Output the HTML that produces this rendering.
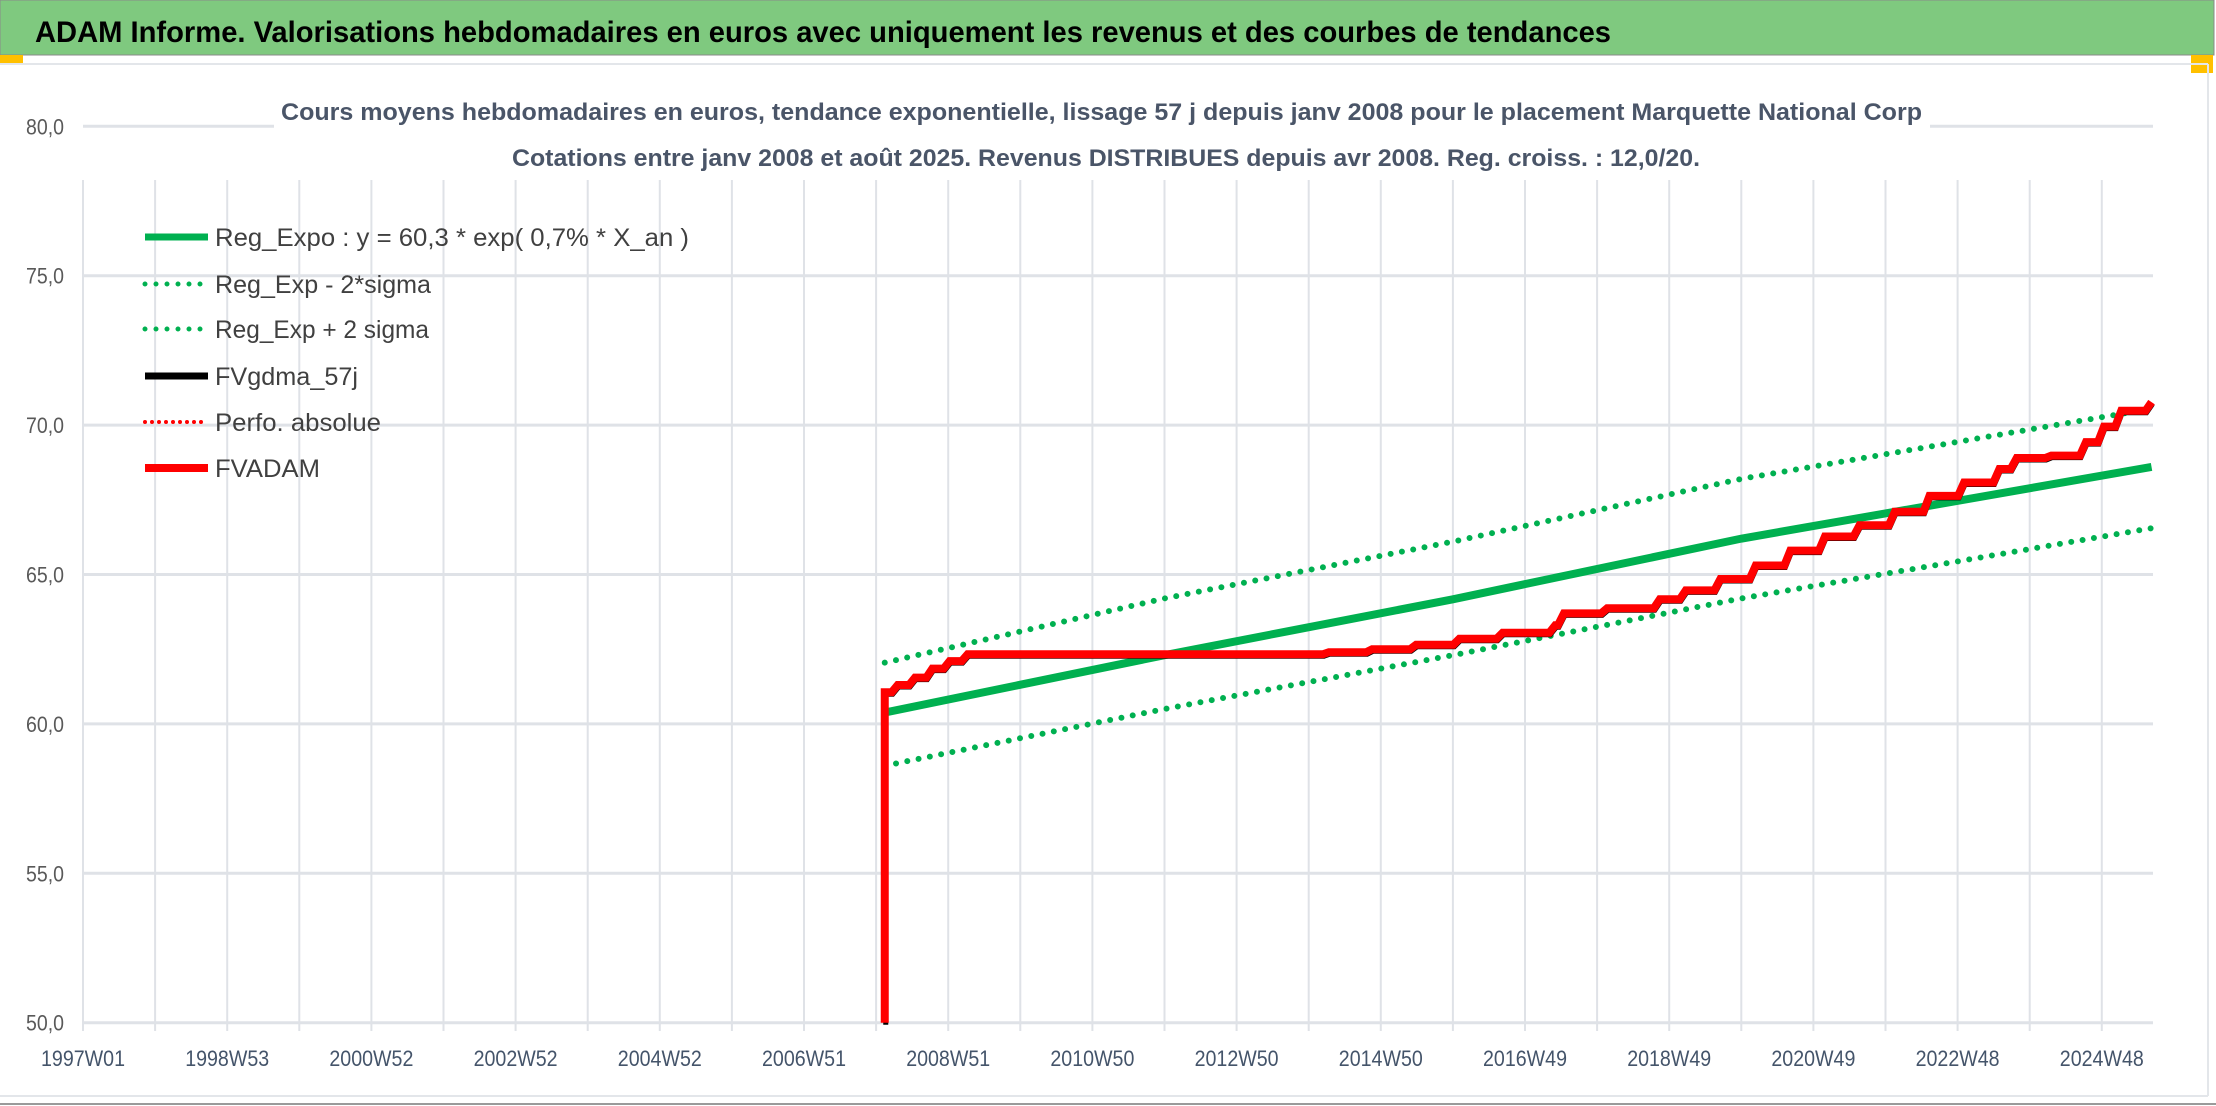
<!DOCTYPE html>
<html><head><meta charset="utf-8"><style>
html,body{margin:0;padding:0;background:#fff;}
svg{display:block;font-family:"Liberation Sans",sans-serif;}
</style></head><body>
<svg id="chart" width="2216" height="1106" viewBox="0 0 2216 1106">
<rect x="0" y="0" width="2216" height="1106" fill="#fff"/>
<rect x="0" y="0" width="2214" height="55" fill="#7fc97f" stroke="#8a8a8a" stroke-width="1"/>
<text x="35" y="42" font-size="30" font-weight="bold" fill="#000" textLength="1576" lengthAdjust="spacingAndGlyphs">ADAM Informe. Valorisations hebdomadaires en euros avec uniquement les revenus et des courbes de tendances</text>
<rect x="0" y="55" width="23" height="8" fill="#ffc000"/>
<rect x="2191" y="55" width="22" height="18" fill="#ffc000"/>
<line x1="0" y1="64" x2="2208" y2="64" stroke="#e3e6ea" stroke-width="2"/>
<line x1="2208" y1="64" x2="2208" y2="1096" stroke="#e3e6ea" stroke-width="2"/>
<line x1="0" y1="1096" x2="2208" y2="1096" stroke="#e3e6ea" stroke-width="2"/>
<line x1="0" y1="1104" x2="2216" y2="1104" stroke="#9a9a9a" stroke-width="2"/>
<g id="grid"></g>
<rect x="274" y="84" width="1656" height="94" fill="#fff"/>
<text x="281" y="120" font-size="24" font-weight="bold" fill="#4a5568" textLength="1641" lengthAdjust="spacingAndGlyphs">Cours moyens hebdomadaires en euros, tendance exponentielle, lissage 57 j depuis janv 2008 pour le placement Marquette National Corp</text>
<text x="512" y="166" font-size="24" font-weight="bold" fill="#4a5568" textLength="1188" lengthAdjust="spacingAndGlyphs">Cotations entre janv 2008 et août 2025. Revenus DISTRIBUES depuis avr 2008. Reg. croiss. : 12,0/20.</text>
<g id="axes"></g>
<g id="series"></g>
<g id="legend">
 <line x1="145" y1="237" x2="208" y2="237" stroke="#00b050" stroke-width="7"/>
 <text x="215" y="246" font-size="25" fill="#404040" textLength="474" lengthAdjust="spacingAndGlyphs">Reg_Expo : y = 60,3 * exp( 0,7% *  X_an )</text>
 <line x1="145" y1="284" x2="208" y2="284" stroke="#00b050" stroke-width="5" stroke-dasharray="0 11" stroke-linecap="round"/>
 <text x="215" y="293" font-size="25" fill="#404040" textLength="216" lengthAdjust="spacingAndGlyphs">Reg_Exp - 2*sigma</text>
 <line x1="145" y1="329" x2="208" y2="329" stroke="#00b050" stroke-width="5" stroke-dasharray="0 11" stroke-linecap="round"/>
 <text x="215" y="338" font-size="25" fill="#404040" textLength="214" lengthAdjust="spacingAndGlyphs">Reg_Exp + 2 sigma</text>
 <line x1="145" y1="376" x2="208" y2="376" stroke="#000" stroke-width="7"/>
 <text x="215" y="385" font-size="25" fill="#404040" textLength="143" lengthAdjust="spacingAndGlyphs">FVgdma_57j</text>
 <line x1="145" y1="422" x2="208" y2="422" stroke="#ff0000" stroke-width="4" stroke-dasharray="0 7" stroke-linecap="round"/>
 <text x="215" y="431" font-size="25" fill="#404040" textLength="166" lengthAdjust="spacingAndGlyphs">Perfo. absolue</text>
 <line x1="145" y1="468" x2="208" y2="468" stroke="#ff0000" stroke-width="8"/>
 <text x="215" y="477" font-size="25" fill="#404040" textLength="105" lengthAdjust="spacingAndGlyphs">FVADAM</text>
</g>
</svg>
<script>
const yTicks = [50, 55, 60, 65, 70, 75, 80];
const yTickLabels = ["50,0", "55,0", "60,0", "65,0", "70,0", "75,0", "80,0"];
const xTickYears = [1997, 1999, 2001, 2003, 2005, 2007, 2009, 2011, 2013, 2015, 2017, 2019, 2021, 2023, 2025];
const xTickLabels = ["1997W01","1998W53","2000W52","2002W52","2004W52","2006W51","2008W51","2010W50","2012W50","2014W50","2016W49","2018W49","2020W49","2022W48","2024W48"];
const regYears = [2008.12, 2012, 2016, 2020, 2025.69];
const regExpo = [60.38, 62.3, 64.17, 66.2, 68.6];
const regPlus = [62.05, 64.2, 66.1, 68.2, 70.55];
const regMinus = [58.6, 60.5, 62.3, 64.2, 66.55];
const adamYears = [2008.12,2008.12,2008.30,2008.54,2008.78,2009.02,2009.27,2013.8,2014.28,2014.88,2015.49,2016.09,2016.69,2017.42,2017.54,2018.14,2018.87,2019.23,2019.71,2020.20,2020.68,2021.16,2021.64,2022.13,2022.61,2023.09,2023.58,2023.82,2024.30,2024.78,2025.03,2025.27,2025.69];
const adamValues = [50,61.06,61.3,61.55,61.85,62.1,62.33,62.33,62.4,62.5,62.65,62.85,63.05,63.3,63.7,63.87,64.17,64.47,64.85,65.3,65.8,66.27,66.65,67.1,67.63,68.08,68.53,68.9,68.98,69.43,69.95,70.48,70.77];

const NS = "http://www.w3.org/2000/svg";
const X0 = 83, X1 = 2153, T0 = 1997, PXY = 72.1;
const Y50 = 1022.7, PXV = 29.88;
function xs(t){ return X0 + (t - T0) * PXY; }
function ys(v){ return Y50 - (v - 50) * PXV; }
function mk(tag, attrs, parent){ const e = document.createElementNS(NS, tag); for (const k in attrs) e.setAttribute(k, attrs[k]); parent.appendChild(e); return e; }

const grid = document.getElementById('grid');
for (let k = 0; k <= 29; k++) {
  const x = xs(T0 + k);
  if (x > X1 + 1) break;
  const l = mk('line', {x1:x, y1:180, x2:x, y2:1031, stroke:'#dfe2e7', 'stroke-width':2}, grid);
  
  
}
yTicks.forEach((v, i) => {
  const y = ys(v);
  const l = mk('line', {x1:X0, y1:y, x2:X1, y2:y, stroke:'#dfe2e7', 'stroke-width':3}, grid);
  
  
});
const axes = document.getElementById('axes');
yTicks.forEach((v, i) => {
  const t = mk('text', {x:64, y:ys(v)+8, 'text-anchor':'end', 'font-size':22, fill:'#595959', textLength:38, lengthAdjust:'spacingAndGlyphs'}, axes);
  t.textContent = yTickLabels[i];
  
  
});
xTickYears.forEach((yr, i) => {
  const t = mk('text', {x:xs(yr), y:1066, 'text-anchor':'middle', 'font-size':22, fill:'#44546a', textLength:84, lengthAdjust:'spacingAndGlyphs'}, axes);
  t.textContent = xTickLabels[i];
  
  
});
function pts(xsArr, vsArr){ return xsArr.map((t, i) => xs(t) + ',' + ys(vsArr[i])).join(' '); }
function stepPath(xsArr, vsArr, dx, dy){
  let d = 'M' + (xs(xsArr[0])+dx) + ',' + (ys(vsArr[0])+dy);
  for (let i = 1; i < xsArr.length; i++) {
    const x = xs(xsArr[i]) + dx, y = ys(vsArr[i]) + dy;
    const xm = x - 6;
    const xp = xs(xsArr[i-1]) + dx;
    d += ' L' + Math.max(xm, xp) + ',' + (ys(vsArr[i-1])+dy) + ' L' + x + ',' + y;
  }
  return d;
}
const S = document.getElementById('series');
let p;
p = mk('polyline', {points:pts(regYears, regPlus), fill:'none', stroke:'#00b050', 'stroke-width':6, 'stroke-dasharray':'0 11.5', 'stroke-linecap':'round'}, S);


p = mk('polyline', {points:pts(regYears, regMinus), fill:'none', stroke:'#00b050', 'stroke-width':6, 'stroke-dasharray':'0 11.5', 'stroke-linecap':'round'}, S);


p = mk('polyline', {points:pts(regYears, regExpo), fill:'none', stroke:'#00b050', 'stroke-width':8}, S);


p = mk('path', {d:stepPath(adamYears, adamValues, 1, 2), fill:'none', stroke:'#000', 'stroke-width':5}, S);


p = mk('path', {d:stepPath(adamYears, adamValues, 0, 0), fill:'none', stroke:'#ff0000', 'stroke-width':8}, S);


</script>
</body></html>
